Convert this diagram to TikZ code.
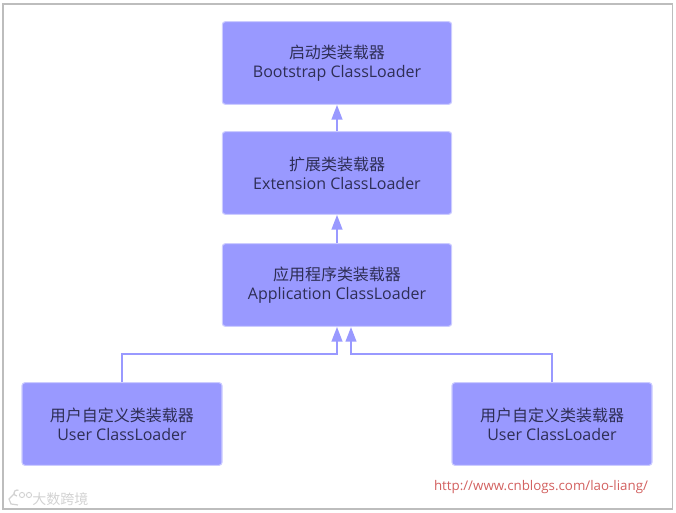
\documentclass[tikz,border=0pt]{standalone}
\usepackage{fontspec}
\setmainfont{Open Sans}
\newfontfamily\cjk{Noto Sans CJK SC}
\usetikzlibrary{arrows.meta,positioning}
\definecolor{boxfill}{HTML}{9999FF}
\definecolor{boxedge}{HTML}{CCCCFF}
\definecolor{boxtext}{HTML}{2E2E55}
\definecolor{linkred}{HTML}{D2605F}
\definecolor{framegray}{HTML}{BDBDBD}
\definecolor{markgray}{HTML}{D2D2D2}
\tikzset{
	loader/.style={draw=boxedge,line width=0.8pt,fill=boxfill,rounded corners=2.2pt,
		minimum width=172pt,minimum height=62pt,inner sep=0pt,align=center,
		text=boxtext,font=\fontsize{12}{14.25}\selectfont},
	userloader/.style={loader,minimum width=150pt},
	parent/.style={-{Triangle[length=11pt,width=8pt]},color=boxfill,line width=1.5pt}
}
\begin{document}
\begin{tikzpicture}[x=0.75pt,y=-0.75pt,on grid,auto]
	\useasboundingbox (0,0) rectangle (676,513);
	\draw[framegray,line width=0.8pt] (3,4) rectangle (672.5,509);
	\node[loader] (boot) at (337,63) {{\cjk 启动类装载器}\\Bootstrap ClassLoader};
	\node[loader] (ext) [below=82.5pt of boot] {{\cjk 扩展类装载器}\\Extension ClassLoader};
	\node[loader] (app) [below=84pt of ext] {{\cjk 应用程序类装载器}\\Application ClassLoader};
	\node[userloader] (user_l) at (122,424) {{\cjk 用户自定义类装载器}\\User ClassLoader};
	\node[userloader] (user_r) at (552,424) {{\cjk 用户自定义类装载器}\\User ClassLoader};
	\coordinate (bend_l) at (337,354);
	\coordinate (bend_r) at (351,354);
	\coordinate (tip_r) at (351,327);
	\path[parent]
	
	(ext) edge (boot)
	(app) edge (ext);
	\draw[parent] (user_l.north) |- (bend_l) -- (app.south);
	\draw[parent] (user_r.north) |- (bend_r) -- (tip_r);
	
	\node[text=linkred,font=\fontsize{10}{12}\selectfont,inner sep=0pt] (link) at (541,487) {http://www.cnblogs.com/lao-liang/};
	% watermark
	\node[text=markgray,font=\cjk\fontsize{10.5}{12}\selectfont,inner sep=0pt] (mark) at (60.5,499.5) {大数跨境};
	\draw[markgray,line width=0.9pt] (14,494) -- (9,499) -- (11,504) -- (18,505) (17,496) arc (90:300:3);
	\draw[markgray,line width=0.7pt] (22,495) circle (2.6) (29,495) circle (2.6);
\end{tikzpicture}
\end{document}
